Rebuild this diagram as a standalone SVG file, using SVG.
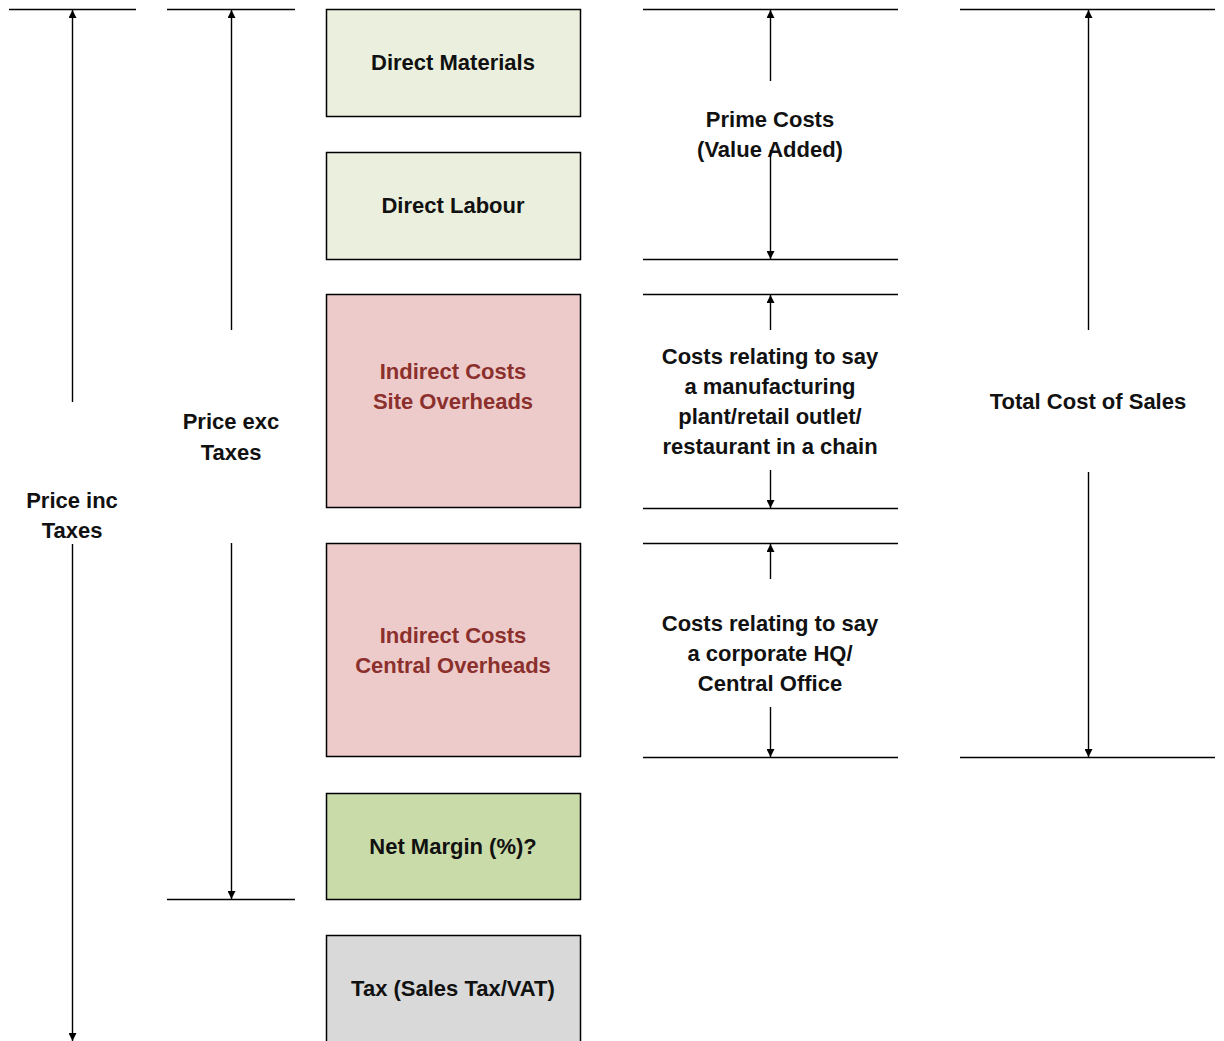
<svg xmlns="http://www.w3.org/2000/svg" width="1224" height="1041" viewBox="0 0 1224 1041">
  <style>
    .box { stroke: #000; stroke-width: 1.5; }
    .direct { fill: #EBF0DE; }
    .indirect { fill: #EDCBCB; }
    .margin { fill: #C9DBA8; }
    .tax { fill: #D9D9D9; }
    .lbl { font-family: "Liberation Sans", Arial, sans-serif; font-weight: bold; font-size: 22px; text-anchor: middle; fill: #111; }
    .red { fill: #8B302C; }
    .rule { stroke: #000; stroke-width: 1.5; fill: none; }
    .dim { stroke: #000; stroke-width: 1.4; fill: none; }
    .up { marker-start: url(#head); }
    .down { marker-end: url(#head); }
  </style>
  <defs>
    <marker id="head" viewBox="0 0 10 10" refX="10" refY="5" markerWidth="8" markerHeight="8" markerUnits="userSpaceOnUse" orient="auto-start-reverse">
      <path d="M0,0 L10,5 L0,10 Z" fill="#000"/>
    </marker>
  </defs>

  <rect width="1224" height="1041" fill="#fff"/>

  <!-- cost blocks -->
  <g id="direct-materials">
    <rect class="box direct" x="326.5" y="9.5" width="254" height="107"/>
    <text class="lbl" x="453" y="70">Direct Materials</text>
  </g>
  <g id="direct-labour">
    <rect class="box direct" x="326.5" y="152.5" width="254" height="107"/>
    <text class="lbl" x="453" y="213">Direct Labour</text>
  </g>
  <g id="site-overheads">
    <rect class="box indirect" x="326.5" y="294.5" width="254" height="213"/>
    <text class="lbl red" x="453" y="379">Indirect Costs</text>
    <text class="lbl red" x="453" y="409">Site Overheads</text>
  </g>
  <g id="central-overheads">
    <rect class="box indirect" x="326.5" y="543.5" width="254" height="213"/>
    <text class="lbl red" x="453" y="643">Indirect Costs</text>
    <text class="lbl red" x="453" y="673">Central Overheads</text>
  </g>
  <g id="net-margin">
    <rect class="box margin" x="326.5" y="793.5" width="254" height="106"/>
    <text class="lbl" x="453" y="854">Net Margin (%)?</text>
  </g>
  <g id="tax">
    <rect class="box tax" x="326.5" y="935.5" width="254" height="120"/>
    <text class="lbl" x="453" y="996">Tax (Sales Tax/VAT)</text>
  </g>

  <!-- extent labels -->
  <g id="price-inc-taxes">
    <text class="lbl" x="72" y="508">Price inc</text>
    <text class="lbl" x="72" y="538">Taxes</text>
  </g>
  <g id="price-exc-taxes">
    <text class="lbl" x="231" y="429">Price exc</text>
    <text class="lbl" x="231" y="460">Taxes</text>
  </g>
  <g id="prime-costs">
    <text class="lbl" x="770" y="127">Prime Costs</text>
    <text class="lbl" x="770" y="157">(Value Added)</text>
  </g>
  <g id="site-costs">
    <text class="lbl" x="770" y="364">Costs relating to say</text>
    <text class="lbl" x="770" y="394">a manufacturing</text>
    <text class="lbl" x="770" y="424">plant/retail outlet/</text>
    <text class="lbl" x="770" y="454">restaurant in a chain</text>
  </g>
  <g id="central-costs">
    <text class="lbl" x="770" y="631">Costs relating to say</text>
    <text class="lbl" x="770" y="661">a corporate HQ/</text>
    <text class="lbl" x="770" y="691">Central Office</text>
  </g>
  <g id="total-cost-of-sales">
    <text class="lbl" x="1088" y="409">Total Cost of Sales</text>
  </g>

  <!-- extension lines and dimension arrows -->
  <g id="connectors">
    <line class="rule" x1="9" y1="9.5" x2="136" y2="9.5"/>
    <line class="rule" x1="167" y1="9.5" x2="295" y2="9.5"/>
    <line class="rule" x1="167" y1="899.5" x2="295" y2="899.5"/>

    <line class="rule" x1="643" y1="9.5" x2="898" y2="9.5"/>
    <line class="rule" x1="643" y1="259.5" x2="898" y2="259.5"/>
    <line class="rule" x1="643" y1="294.5" x2="898" y2="294.5"/>
    <line class="rule" x1="643" y1="508.5" x2="898" y2="508.5"/>
    <line class="rule" x1="643" y1="543.5" x2="898" y2="543.5"/>
    <line class="rule" x1="643" y1="757.5" x2="898" y2="757.5"/>

    <line class="rule" x1="960" y1="9.5" x2="1215" y2="9.5"/>
    <line class="rule" x1="960" y1="757.5" x2="1215" y2="757.5"/>

    <line class="dim up" x1="72.5" y1="10" x2="72.5" y2="402"/>
    <line class="dim down" x1="72.5" y1="544" x2="72.5" y2="1041"/>

    <line class="dim up" x1="231.5" y1="10" x2="231.5" y2="330"/>
    <line class="dim down" x1="231.5" y1="543" x2="231.5" y2="899"/>

    <line class="dim up" x1="770.5" y1="10" x2="770.5" y2="81"/>
    <line class="dim down" x1="770.5" y1="150" x2="770.5" y2="259"/>

    <line class="dim up" x1="770.5" y1="295" x2="770.5" y2="330"/>
    <line class="dim down" x1="770.5" y1="470" x2="770.5" y2="508"/>

    <line class="dim up" x1="770.5" y1="544" x2="770.5" y2="579"/>
    <line class="dim down" x1="770.5" y1="707" x2="770.5" y2="757"/>

    <line class="dim up" x1="1088.5" y1="10" x2="1088.5" y2="330"/>
    <line class="dim down" x1="1088.5" y1="472" x2="1088.5" y2="757"/>
  </g>
</svg>
